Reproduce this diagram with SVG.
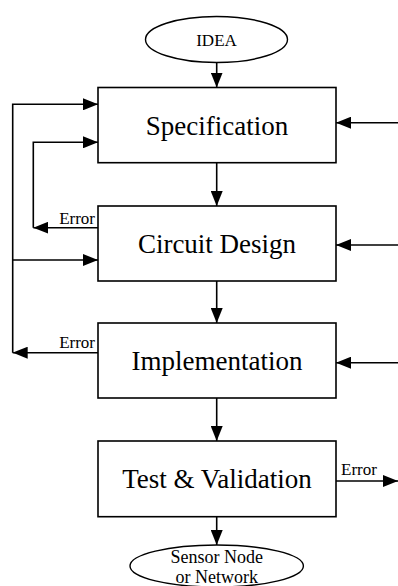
<svg xmlns="http://www.w3.org/2000/svg" width="398" height="586" viewBox="0 0 398 586" font-family="'Liberation Serif', 'DejaVu Serif', 'Times New Roman', Times, serif">
  <defs>
    <marker id="arrow" markerUnits="userSpaceOnUse" markerWidth="15" markerHeight="12" refX="15" refY="6" orient="auto">
      <path d="M0,0 L15,6 L0,12 z" fill="#000"/>
    </marker>
    <style>
      .box { fill: #fff; stroke: #000; stroke-width: 1.6; }
      .term { fill: #fff; stroke: #000; stroke-width: 1.4; }
      .wire { fill: none; stroke: #000; stroke-width: 1.6; marker-end: url(#arrow); }
      text { fill: #000; }
      .big { font-size: 27px; text-anchor: middle; }
      .small { font-size: 17px; }
      .term-label { font-size: 18px; text-anchor: middle; }
    </style>
  </defs>

  <rect width="398" height="586" fill="#fff"/>

  <!-- connectors -->
  <g id="connectors">
    <path class="wire" d="M216.7,62.5 V87.5"/>
    <path class="wire" d="M216.7,162.7 V206"/>
    <path class="wire" d="M216.7,281 V323"/>
    <path class="wire" d="M216.7,398 V441"/>
    <path class="wire" d="M216.7,516.7 V545"/>

    <!-- external inputs on the right -->
    <path class="wire" d="M398,122.7 H336"/>
    <path class="wire" d="M398,245 H336"/>
    <path class="wire" d="M398,362.7 H336"/>

    <!-- error from circuit design back to specification -->
    <path class="wire" d="M98,227.7 H33.3"/>
    <path class="wire" d="M33.3,227.7 V142.3 H98"/>

    <!-- error from implementation back to specification and circuit design -->
    <path class="wire" d="M98,352.7 H12.7"/>
    <path class="wire" d="M12.7,352.7 V104.3 H98"/>
    <path class="wire" d="M12.7,260 H98"/>

    <!-- error out of test & validation -->
    <path class="wire" d="M336,481 H398"/>

    <text class="small" x="95" y="224.3" text-anchor="end">Error</text>
    <text class="small" x="95" y="347.5" text-anchor="end">Error</text>
    <text class="small" x="341" y="474.5">Error</text>
  </g>

  <g id="idea">
    <ellipse class="term" cx="216.5" cy="39.5" rx="71" ry="23"/>
    <text class="term-label" x="216.5" y="45.5" style="font-size:17px">IDEA</text>
  </g>

  <g id="specification">
    <rect class="box" x="98" y="87.5" width="238" height="75.2"/>
    <text class="big" x="217" y="134.5">Specification</text>
  </g>

  <g id="circuit-design">
    <rect class="box" x="98" y="206" width="238" height="75"/>
    <text class="big" x="217" y="252.5">Circuit Design</text>
  </g>

  <g id="implementation">
    <rect class="box" x="98" y="323" width="238" height="75"/>
    <text class="big" x="217" y="369.5">Implementation</text>
  </g>

  <g id="test-validation">
    <rect class="box" x="98" y="441" width="238" height="75.7"/>
    <text class="big" x="217" y="488.3">Test &amp; Validation</text>
  </g>

  <g id="sensor-node">
    <ellipse class="term" cx="216.7" cy="566" rx="86.7" ry="21"/>
    <text class="term-label" x="216.7" y="563.3">Sensor Node</text>
    <text class="term-label" x="216.7" y="582.5">or Network</text>
  </g>
</svg>
